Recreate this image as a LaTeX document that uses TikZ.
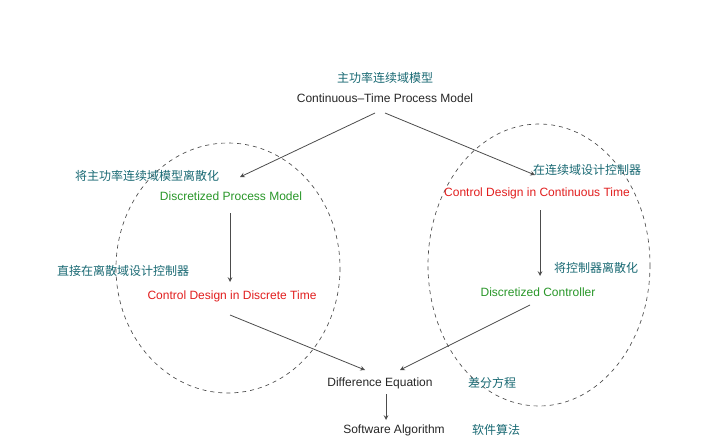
\documentclass[tikz,border=0pt]{standalone}
\usepackage{fontspec}
\setmainfont{Liberation Sans}
\newfontfamily\cjk{Noto Sans CJK SC}
\definecolor{cn}{RGB}{25,105,115}
\definecolor{gr}{RGB}{40,150,40}
\definecolor{rd}{RGB}{225,30,30}
\begin{document}
\begin{tikzpicture}[x=0.75pt,y=-0.75pt,
  every node/.style={font=\fontsize{9}{10}\selectfont, inner sep=1pt},
  cnt/.style={text=cn, font=\fontsize{9}{10}\selectfont\cjk},
  en/.style={text=black!85},
  grn/.style={text=gr},
  red/.style={text=rd},
  arr/.style={draw=black!70, -stealth, line width=0.6pt},
  ell/.style={draw=black!70, dashed, line width=0.5pt}]
\useasboundingbox (0,0) rectangle (712,445);
\draw[ell] (228,268) ellipse [x radius=112, y radius=125];
\draw[ell] (539,265) ellipse [x radius=111, y radius=141];
\node[cnt] (c1) at (385,78) {主功率连续域模型};
\node[en] (ct) at (385,98) {Continuous–Time Process Model};
\node[cnt] (c2) at (147,176) {将主功率连续域模型离散化};
\node[grn] (dp) at (231,196) {Discretized Process Model};
\node[cnt] (c3) at (587,170) {在连续域设计控制器};
\node[red] (cc) at (537,193) {Control Design in Continuous Time};
\node[cnt] (c4) at (123,271) {直接在离散域设计控制器};
\node[red] (cd) at (232,296) {Control Design in Discrete Time};
\node[cnt] (c5) at (596,268) {将控制器离散化};
\node[grn] (dc) at (538,292) {Discretized Controller};
\node[en] (de) at (380,383) {Difference Equation};
\node[cnt] (c6) at (492,383) {差分方程};
\node[en] (sa) at (394,430) {Software Algorithm};
\node[cnt] (c7) at (496,430) {软件算法};
\coordinate (a1) at (375,113); \coordinate (a2) at (385,113);
\coordinate (e1) at (240,177); \coordinate (e2) at (535,175);
\coordinate (b1) at (230,213); \coordinate (b2) at (230,282);
\coordinate (d1) at (540,210); \coordinate (d2) at (540,276);
\coordinate (f1) at (230,315); \coordinate (f2) at (365,370);
\coordinate (g1) at (530,305); \coordinate (g2) at (400,370);
\coordinate (h1) at (386,394); \coordinate (h2) at (386,420);
\draw[arr] (a1) -- (e1);
\draw[arr] (a2) -- (e2);
\draw[arr] (b1) -- (b2);
\draw[arr] (d1) -- (d2);
\draw[arr] (f1) -- (f2);
\draw[arr] (g1) -- (g2);
\draw[arr] (h1) -- (h2);
\end{tikzpicture}
\end{document}
